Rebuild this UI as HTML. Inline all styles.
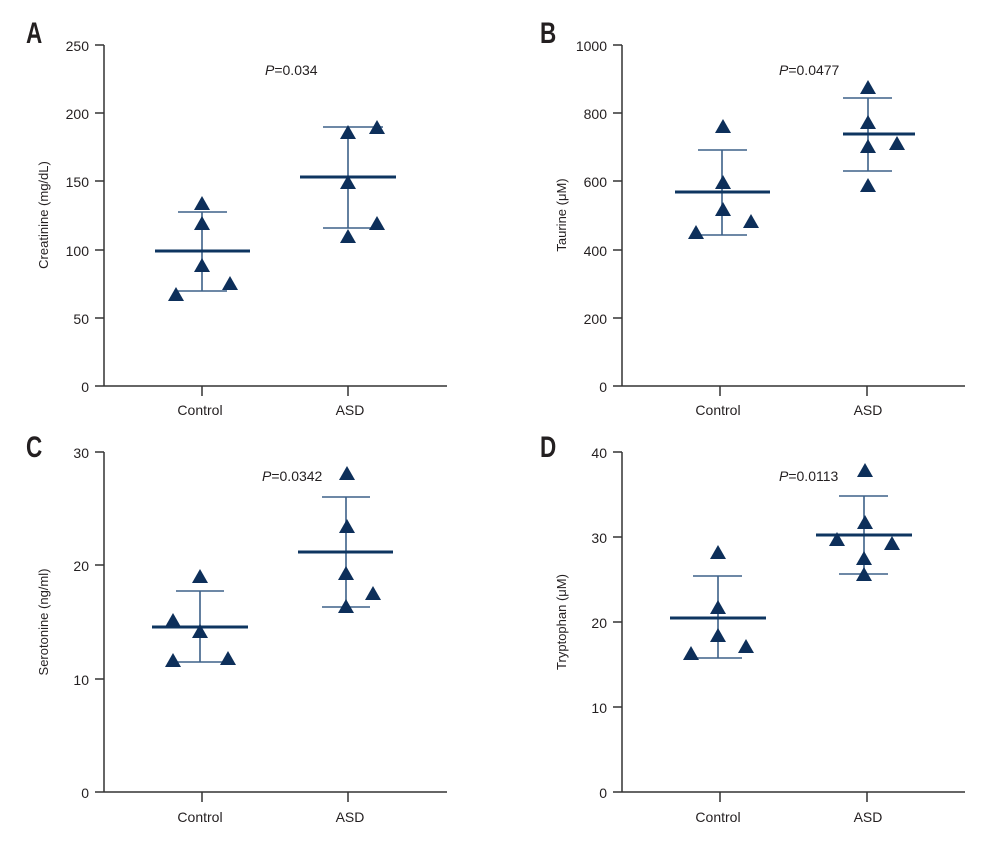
<!DOCTYPE html>
<html><head><meta charset="utf-8"><style>
html,body{margin:0;padding:0;background:#fff;}
svg{display:block;}
text{font-family:"Liberation Sans Narrow","Liberation Sans",sans-serif;fill:#231f20;}
.t{font-size:14px;text-anchor:end;}
.x{font-size:14px;text-anchor:middle;}
.yl{font-size:13px;text-anchor:middle;}
.L{font-size:30px;font-weight:bold;}
.p{font-size:14px;}
.ax{stroke:#333;stroke-width:1.5;fill:none;}
.eb{stroke:#3d6189;stroke-width:1.6;fill:none;}
.mn{stroke:#0e3560;stroke-width:3;fill:none;}
.tri{fill:#0d2f5a;}
</style></head><body>
<svg width="1000" height="864" viewBox="0 0 1000 864" xmlns="http://www.w3.org/2000/svg">
<defs><polygon id="tr" points="-8,6 8,6 0,-8" class="tri"/></defs>

<!-- Panel A -->
<text class="L" x="26" y="43" transform="translate(26 0) scale(0.75 1) translate(-26 0)">A</text>
<path class="ax" d="M104,45 V386 H447 M95,45 H104 M95,113 H104 M95,181 H104 M95,250 H104 M95,318 H104 M95,386 H104 M202,386 V396 M348,386 V396"/>
<text class="t" x="89" y="51">250</text><text class="t" x="89" y="119">200</text><text class="t" x="89" y="187">150</text><text class="t" x="89" y="256">100</text><text class="t" x="89" y="324">50</text><text class="t" x="89" y="392">0</text>
<text class="x" x="200" y="415">Control</text><text class="x" x="350" y="415">ASD</text>
<text class="yl" transform="translate(48 215) rotate(-90)">Creatinine (mg/dL)</text>
<text class="p" x="265" y="75"><tspan font-style="italic">P</tspan>=0.034</text>
<path class="eb" d="M202,212 V291 M178,212 H227 M178,291 H227"/>
<path class="mn" d="M155,251 H250"/>
<use href="#tr" x="202" y="204"/><use href="#tr" x="202" y="224"/><use href="#tr" x="202" y="266"/><use href="#tr" x="176" y="295"/><use href="#tr" x="230" y="284"/>
<path class="eb" d="M348,127 V228 M323,127 H383 M323,228 H383"/>
<path class="mn" d="M300,177 H396"/>
<use href="#tr" x="348" y="133"/><use href="#tr" x="377" y="128"/><use href="#tr" x="348" y="183"/><use href="#tr" x="377" y="224"/><use href="#tr" x="348" y="237"/>

<!-- Panel B -->
<text class="L" x="540" y="43" transform="translate(540 0) scale(0.75 1) translate(-540 0)">B</text>
<path class="ax" d="M622,45 V386 H965 M613,45 H622 M613,113 H622 M613,181 H622 M613,250 H622 M613,318 H622 M613,386 H622 M720,386 V396 M867,386 V396"/>
<text class="t" x="607" y="51">1000</text><text class="t" x="607" y="119">800</text><text class="t" x="607" y="187">600</text><text class="t" x="607" y="256">400</text><text class="t" x="607" y="324">200</text><text class="t" x="607" y="392">0</text>
<text class="x" x="718" y="415">Control</text><text class="x" x="868" y="415">ASD</text>
<text class="yl" transform="translate(566 215) rotate(-90)">Taurine (μM)</text>
<text class="p" x="779" y="75"><tspan font-style="italic">P</tspan>=0.0477</text>
<path class="eb" d="M722,150 V235 M698,150 H747 M698,235 H747"/>
<path class="mn" d="M675,192 H770"/>
<use href="#tr" x="723" y="127"/><use href="#tr" x="723" y="183"/><use href="#tr" x="723" y="210"/><use href="#tr" x="696" y="233"/><use href="#tr" x="751" y="222"/>
<path class="eb" d="M868,98 V171 M843,98 H892 M843,171 H892"/>
<path class="mn" d="M843,134 H915"/>
<use href="#tr" x="868" y="88"/><use href="#tr" x="868" y="123"/><use href="#tr" x="868" y="147"/><use href="#tr" x="897" y="144"/><use href="#tr" x="868" y="186"/>

<!-- Panel C -->
<text class="L" x="26" y="457" transform="translate(26 0) scale(0.75 1) translate(-26 0)">C</text>
<path class="ax" d="M104,452 V792 H447 M95,452 H104 M95,565 H104 M95,679 H104 M95,792 H104 M202,792 V802 M348,792 V802"/>
<text class="t" x="89" y="458">30</text><text class="t" x="89" y="571">20</text><text class="t" x="89" y="685">10</text><text class="t" x="89" y="798">0</text>
<text class="x" x="200" y="822">Control</text><text class="x" x="350" y="822">ASD</text>
<text class="yl" transform="translate(48 622) rotate(-90)">Serotonine (ng/ml)</text>
<text class="p" x="262" y="481"><tspan font-style="italic">P</tspan>=0.0342</text>
<path class="eb" d="M200,591 V662 M176,591 H224 M176,662 H224"/>
<path class="mn" d="M152,627 H248"/>
<use href="#tr" x="200" y="577"/><use href="#tr" x="173" y="621"/><use href="#tr" x="200" y="632"/><use href="#tr" x="173" y="661"/><use href="#tr" x="228" y="659"/>
<path class="eb" d="M346,497 V607 M322,497 H370 M322,607 H370"/>
<path class="mn" d="M298,552 H393"/>
<use href="#tr" x="347" y="474"/><use href="#tr" x="347" y="527"/><use href="#tr" x="346" y="574"/><use href="#tr" x="373" y="594"/><use href="#tr" x="346" y="607"/>

<!-- Panel D -->
<text class="L" x="540" y="457" transform="translate(540 0) scale(0.75 1) translate(-540 0)">D</text>
<path class="ax" d="M622,452 V792 H965 M613,452 H622 M613,537 H622 M613,622 H622 M613,707 H622 M613,792 H622 M720,792 V802 M867,792 V802"/>
<text class="t" x="607" y="458">40</text><text class="t" x="607" y="543">30</text><text class="t" x="607" y="628">20</text><text class="t" x="607" y="713">10</text><text class="t" x="607" y="798">0</text>
<text class="x" x="718" y="822">Control</text><text class="x" x="868" y="822">ASD</text>
<text class="yl" transform="translate(566 622) rotate(-90)">Tryptophan (μM)</text>
<text class="p" x="779" y="481"><tspan font-style="italic">P</tspan>=0.0113</text>
<path class="eb" d="M718,576 V658 M693,576 H742 M693,658 H742"/>
<path class="mn" d="M670,618 H766"/>
<use href="#tr" x="718" y="553"/><use href="#tr" x="718" y="608"/><use href="#tr" x="718" y="636"/><use href="#tr" x="691" y="654"/><use href="#tr" x="746" y="647"/>
<path class="eb" d="M864,496 V574 M839,496 H888 M839,574 H888"/>
<path class="mn" d="M816,535 H912"/>
<use href="#tr" x="865" y="471"/><use href="#tr" x="865" y="523"/><use href="#tr" x="837" y="540"/><use href="#tr" x="892" y="544"/><use href="#tr" x="864" y="559"/><use href="#tr" x="864" y="575"/>
</svg>
</body></html>
